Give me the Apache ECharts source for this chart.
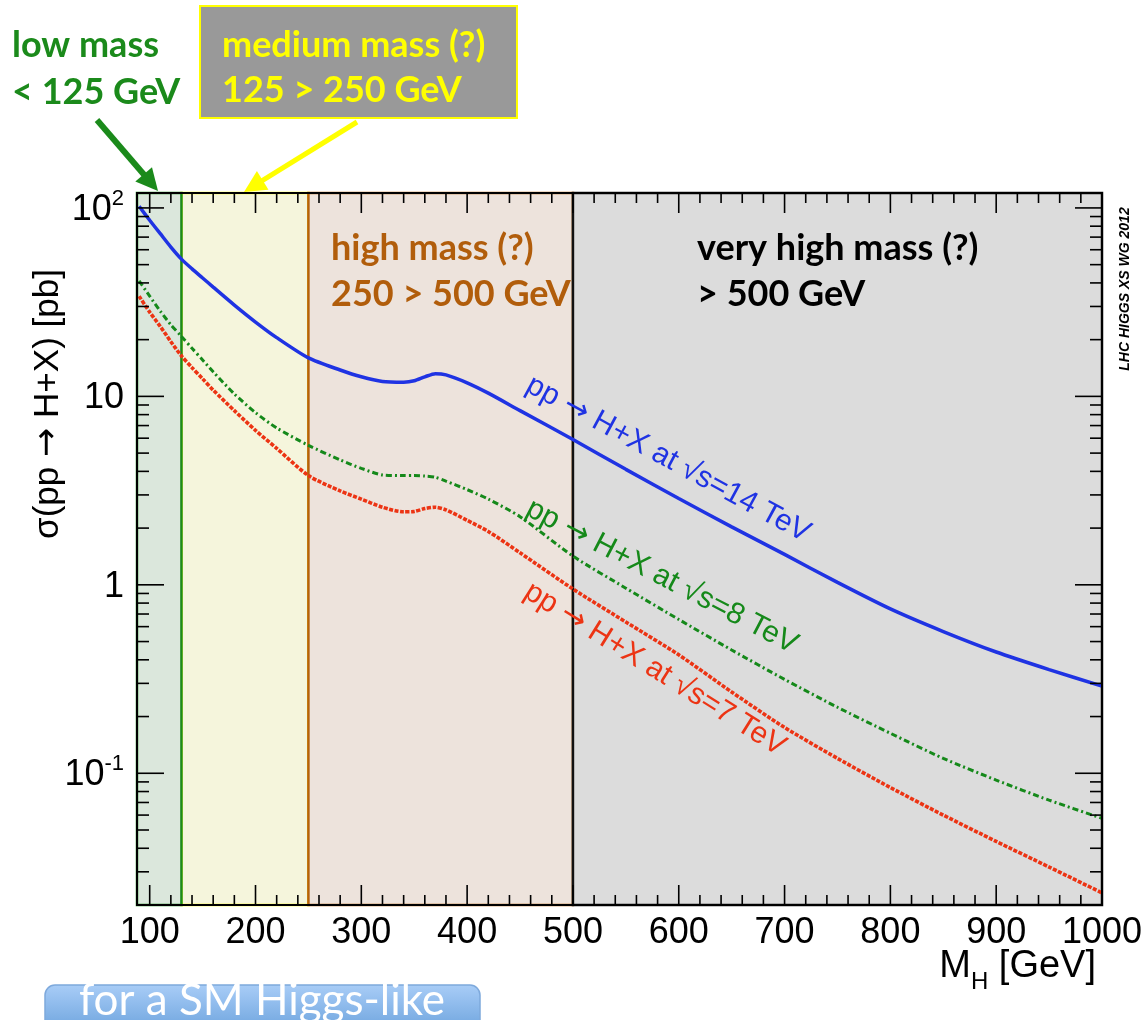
<!DOCTYPE html>
<html>
<head>
<meta charset="utf-8">
<title>SM Higgs production cross section</title>
<script src="https://cdn.jsdelivr.net/npm/echarts@6.0.0/dist/echarts.min.js"></script>
<style>
  html, body { margin: 0; padding: 0; background: #ffffff; }
  #chart { width: 1148px; height: 1020px; }
</style>
</head>
<body>
<div id="chart"></div>
<script>
// Higgs boson mass grid (GeV)
const massGeV = [90, 100, 110, 120, 130, 140, 150, 160, 180, 200, 220, 250, 280, 300, 320, 340, 350, 360, 370, 380,
                 400, 420, 450, 500, 550, 600, 650, 700, 750, 800, 850, 900, 950, 1000];
// sigma(pp -> H+X) in pb
const xs14TeV = [102, 86, 73, 62, 53.5, 47.5, 42.5, 38, 30.5, 24.8, 20.5, 16, 13.8, 12.7, 12.0, 11.9, 12.1, 12.7, 13.2, 13.0,
                 11.8, 10.4, 8.4, 5.9, 4.1, 2.87, 2.03, 1.45, 1.03, 0.745, 0.565, 0.44, 0.355, 0.29];
const xs8TeV  = [41, 34, 28.3, 24, 20.8, 18, 15.6, 13.5, 10.3, 8.2, 6.8, 5.5, 4.6, 4.15, 3.83, 3.8, 3.8, 3.78, 3.72, 3.55,
                 3.2, 2.85, 2.3, 1.42, 0.96, 0.655, 0.451, 0.315, 0.224, 0.163, 0.12, 0.092, 0.072, 0.0577];
const xs7TeV  = [34, 28, 23.5, 19.5, 16.4, 14.2, 12.4, 10.8, 8.4, 6.6, 5.3, 3.8, 3.15, 2.85, 2.58, 2.44, 2.45, 2.54, 2.58, 2.5,
                 2.2, 1.92, 1.48, 0.95, 0.635, 0.425, 0.27, 0.175, 0.12, 0.084, 0.06, 0.0435, 0.0318, 0.0232];

// mass regions [from, to] in GeV (drawn in this order)
const regionFrom = [130, 88, 250, 500];
const regionTo   = [250, 130, 500, 1000];
const regionFill   = ['#f5f5dc', '#dbe7dc', '#ede3dc', '#dcdcdc'];
const regionStroke = ['#ffff00', '#1b8a1b', '#b5600d', '#111111'];

// axis ranges and tick values
const xMin = 88, xMax = 1000;
const yMin = 0.02, yMax = 120;
const xMajorTicks = [100, 200, 300, 400, 500, 600, 700, 800, 900, 1000];
const yMajorTicks = [0.1, 1, 10, 100];
const yTickText = { '0.1': '{b|10}{s|-1}', '1': '{b|1}', '10': '{b|10}', '100': '{b|10}{s|2}' };

// minor ticks: every 20 GeV, and 2..9 per decade
const xMinorTicks = [];
for (let v = 120; v < xMax; v += 20) if (v % 100 !== 0) xMinorTicks.push(v);
const yMinorTicks = [];
[0.01, 0.1, 1, 10].forEach(function (d) {
  for (let k = 2; k <= 9; k++) {
    const v = +(k * d).toPrecision(3);
    if (v >= yMin && v <= yMax) yMinorTicks.push(v);
  }
});

// plot frame placement (px)
const GRID = { left: 137, right: 46, top: 193, bottom: 115 };
const W = 1148, H = 1020;
const TICK_W = 1.6;

const FONT = 'Liberation Sans';
const BOLD = 'Lato';
const ARROW_FONT = 'DejaVu Sans';

function pairs(ys) { return massGeV.map(function (m, i) { return [m, ys[i]]; }); }

// inward tick marks on both frame sides, one custom series per tick kind
function xTickRenderer(len) {
  return function (params, api) {
    const cs = params.coordSys;
    const x = api.coord([api.value(0), api.value(1)])[0];
    return { type: 'group', children: [
      { type: 'rect', shape: { x: x - TICK_W / 2, y: cs.y + cs.height - len, width: TICK_W, height: len }, style: { fill: '#000' } },
      { type: 'rect', shape: { x: x - TICK_W / 2, y: cs.y, width: TICK_W, height: len }, style: { fill: '#000' } }
    ] };
  };
}
function yTickRenderer(len) {
  return function (params, api) {
    const cs = params.coordSys;
    const y = api.coord([api.value(0), api.value(1)])[1];
    return { type: 'group', children: [
      { type: 'rect', shape: { x: cs.x, y: y - TICK_W / 2, width: len, height: TICK_W }, style: { fill: '#000' } },
      { type: 'rect', shape: { x: cs.x + cs.width - len, y: y - TICK_W / 2, width: len, height: TICK_W }, style: { fill: '#000' } }
    ] };
  };
}
function tickSeries(name, data, renderer) {
  return { name: name, type: 'custom', xAxisIndex: 0, yAxisIndex: 0, z: 6, silent: true, clip: false,
           encode: { x: 0, y: 1 }, data: data, renderItem: renderer };
}

function renderRegion(params, api) {
  const i = params.dataIndex;
  const p0 = api.coord([api.value(0), yMax]);
  const p1 = api.coord([api.value(1), yMin]);
  return { type: 'rect', shape: { x: p0[0], y: p0[1], width: p1[0] - p0[0], height: p1[1] - p0[1] },
           style: { fill: regionFill[i], stroke: regionStroke[i], lineWidth: 2.5 } };
}

const chart = echarts.init(document.getElementById('chart'), null, { renderer: 'canvas', width: W, height: H });

function xAxisDef(position, withLabels) {
  return {
    type: 'value', min: xMin, max: xMax, position: position, z: 10,
    axisLine: { show: true, onZero: false, lineStyle: { color: '#000', width: 2 } },
    axisTick: { show: false },
    axisLabel: withLabels ? { show: true, customValues: xMajorTicks, fontSize: 36, fontFamily: FONT, color: '#000', margin: 10,
                 formatter: function (v) { return String(Math.round(v)); } } : { show: false },
    splitLine: { show: false }
  };
}
function yAxisDef(position, withLabels) {
  return {
    type: 'log', logBase: 10, min: yMin, max: yMax, position: position, z: 10,
    axisLine: { show: true, onZero: false, lineStyle: { color: '#000', width: 2 } },
    axisTick: { show: false },
    axisLabel: withLabels ? {
      show: true, customValues: yMajorTicks, margin: 13,
      formatter: function (v) { return yTickText[String(+v.toPrecision(3))] || ''; },
      rich: {
        b: { fontSize: 36, fontFamily: FONT, color: '#000', lineHeight: 40, verticalAlign: 'bottom' },
        s: { fontSize: 22, fontFamily: FONT, color: '#000', lineHeight: 22, verticalAlign: 'top' }
      }
    } : { show: false },
    splitLine: { show: false }
  };
}

chart.setOption({
  animation: false,
  backgroundColor: '#ffffff',
  grid: { left: GRID.left, right: GRID.right, top: GRID.top, bottom: GRID.bottom, containLabel: false, outerBoundsMode: 'none' },
  xAxis: [xAxisDef('bottom', true), xAxisDef('top', false)],
  yAxis: [yAxisDef('left', true), yAxisDef('right', false)],
  series: [
    {
      name: 'regions', type: 'custom', xAxisIndex: 0, yAxisIndex: 0, z: 0, silent: true, clip: false,
      encode: { x: [0, 1] },
      data: regionFrom.map(function (f, i) { return [f, regionTo[i]]; }),
      renderItem: renderRegion
    },
    {
      name: '14 TeV', type: 'line', xAxisIndex: 0, yAxisIndex: 0, z: 3,
      data: pairs(xs14TeV), showSymbol: false, smooth: 0.25,
      lineStyle: { color: '#1f33e3', width: 3.5, type: 'solid' }
    },
    {
      name: '8 TeV', type: 'line', xAxisIndex: 0, yAxisIndex: 0, z: 3,
      data: pairs(xs8TeV), showSymbol: false, smooth: 0.25,
      lineStyle: { color: '#15891a', width: 3, type: [6, 3, 2, 3] }
    },
    {
      name: '7 TeV', type: 'line', xAxisIndex: 0, yAxisIndex: 0, z: 3,
      data: pairs(xs7TeV), showSymbol: false, smooth: 0.25,
      lineStyle: { color: '#ec3414', width: 3.6, type: [4, 1.5] }
    },
    tickSeries('x minor ticks', xMinorTicks.map(function (v) { return [v, 1]; }), xTickRenderer(10)),
    tickSeries('x major ticks', xMajorTicks.map(function (v) { return [v, 1]; }), xTickRenderer(20)),
    tickSeries('y minor ticks', yMinorTicks.map(function (v) { return [300, v]; }), yTickRenderer(12)),
    tickSeries('y major ticks', yMajorTicks.map(function (v) { return [300, v]; }), yTickRenderer(27))
  ]
});

// ---- annotations ----
function px(m, s) { return chart.convertToPixel({ xAxisIndex: 0, yAxisIndex: 0 }, [m, s]); }
const frameRight = W - GRID.right;

function arrow(x1, y1, x2, y2, color, width, headLen, headHalf) {
  const dx = x2 - x1, dy = y2 - y1, L = Math.sqrt(dx * dx + dy * dy);
  const ux = dx / L, uy = dy / L;
  const bx = x2 - ux * headLen, by = y2 - uy * headLen;
  return [
    { type: 'line', shape: { x1: x1, y1: y1, x2: bx + ux * 2, y2: by + uy * 2 }, style: { stroke: color, lineWidth: width }, z: 20 },
    { type: 'polygon', shape: { points: [[x2, y2], [bx - uy * headHalf, by + ux * headHalf], [bx + uy * headHalf, by - ux * headHalf]] },
      style: { fill: color }, z: 20 }
  ];
}

function boldText(x, y, text, color) {
  return { type: 'text', x: x, y: y, z: 20,
    style: { text: text, fill: color, fontSize: 36, fontFamily: BOLD, fontWeight: 'bold', align: 'left', verticalAlign: 'middle' } };
}

function curveLabel(m, s, energy, color, angleDeg) {
  const p = px(m, s);
  return { type: 'text', x: p[0], y: p[1], rotation: -angleDeg * Math.PI / 180, z: 20,
    style: {
      text: '{t|pp }{a|→}{t| H+X at √s=' + energy + ' TeV}', align: 'left', verticalAlign: 'bottom',
      rich: {
        t: { fontSize: 30, fontFamily: FONT, fill: color, lineHeight: 34, verticalAlign: 'bottom' },
        a: { fontSize: 30, fontFamily: ARROW_FONT, fill: color, lineHeight: 34, verticalAlign: 'bottom' }
      }
    } };
}

const graphics = [
  // top-left notes
  boldText(12, 45, 'low mass', '#1b8a1b'),
  boldText(12, 92, '< 125 GeV', '#1b8a1b'),
  { type: 'rect', shape: { x: 200, y: 6, width: 317, height: 112 }, style: { fill: '#999999', stroke: '#ffff00', lineWidth: 2 }, z: 19 },
  boldText(222, 45, 'medium mass (?)', '#ffff00'),
  boldText(222, 90, '125 > 250 GeV', '#ffff00'),
  // region notes inside the frame
  boldText(331, 248, 'high mass (?)', '#b15d0b'),
  boldText(331, 294, '250 > 500 GeV', '#b15d0b'),
  boldText(697, 248, 'very high mass (?)', '#000000'),
  boldText(697, 294, '> 500 GeV', '#000000'),
  // axis titles
  { type: 'text', x: 48, y: 404, rotation: Math.PI / 2, z: 20,
    style: { text: '{t|σ(pp }{a|→}{t| H+X) [pb]}', align: 'center', verticalAlign: 'middle',
      rich: {
        t: { fontSize: 35, fontFamily: FONT, fill: '#000', lineHeight: 40 },
        a: { fontSize: 35, fontFamily: ARROW_FONT, fill: '#000', lineHeight: 40 }
      } } },
  { type: 'text', x: frameRight - 6, y: 948, z: 20,
    style: { text: '{m|M}{h|H}{m| [GeV]}', align: 'right', verticalAlign: 'top',
      rich: {
        m: { fontSize: 38, fontFamily: FONT, fill: '#000', lineHeight: 40, verticalAlign: 'top' },
        h: { fontSize: 24, fontFamily: FONT, fill: '#000', lineHeight: 24, verticalAlign: 'top', padding: [22, 0, 0, 0] }
      } } },
  // collaboration tag
  { type: 'text', x: 1125, y: 289, rotation: Math.PI / 2, z: 20,
    style: { text: 'LHC HIGGS XS WG 2012', fill: '#000', fontSize: 14, fontFamily: FONT, fontWeight: 'bold', fontStyle: 'italic',
      align: 'center', verticalAlign: 'middle' } },
  // curve labels
  curveLabel(451, 10.0, '14', '#1f33e3', 28.5),
  curveLabel(451, 2.2, '8', '#15891a', 27.5),
  curveLabel(449, 0.81, '7', '#ec3414', 32),
  // bottom button
  { type: 'rect', shape: { x: 45, y: 985, width: 435, height: 60, r: 10 }, z: 19,
    style: { stroke: '#7ea9dc', lineWidth: 1.5,
      fill: new echarts.graphic.LinearGradient(0, 0, 0, 1, [{ offset: 0, color: '#a9cdf7' }, { offset: 1, color: '#5b97d6' }]) } },
  { type: 'text', x: 262, y: 1001, z: 20,
    style: { text: 'for a SM Higgs-like', fill: '#ffffff', fontSize: 44, fontFamily: BOLD, align: 'center', verticalAlign: 'middle' } }
]
  .concat(arrow(97, 120, 158, 191, '#1b8a1b', 6, 22, 11))
  .concat(arrow(357, 122, 244, 192, '#ffff00', 5, 22, 11));

chart.setOption({ graphic: { elements: graphics } });
</script>
</body>
</html>
